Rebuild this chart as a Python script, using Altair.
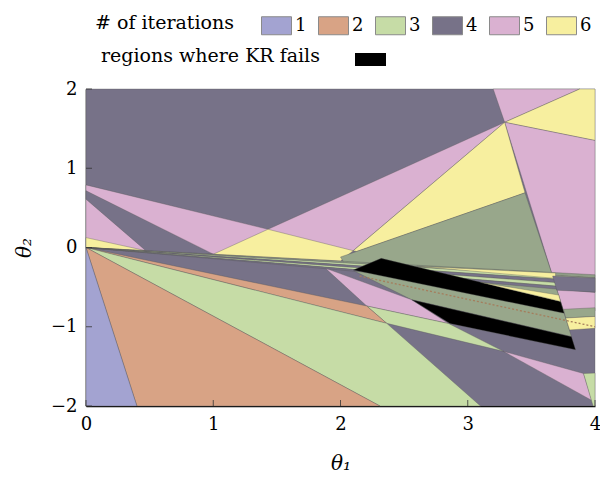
import altair as alt
import pandas as pd

# ---- colour keys ----
KEYS = ["1", "2", "3", "4", "5", "6", "m", "f", "k"]
COLS = ["#a3a3d1", "#d8a385", "#c6dca6", "#777288", "#dab1d1", "#f7ef9f",
        "#98a78b", "#8f9c86", "#000000"]

ITER_LABELS = ["1", "2", "3", "4", "5", "6"]
ITER_COLS = COLS[:6]

# ---- polygons (drawn in this order) ----
POLY_CAT = []
POLY_X = []
POLY_Y = []

def poly(cat, pts):
    POLY_CAT.append(cat)
    POLY_X.append([p[0] for p in pts])
    POLY_Y.append([p[1] for p in pts])

poly("4", [(0, -2), (4, -2), (4, 2), (0, 2)])
poly("5", [(3.20, 2), (3.88, 2), (3.29, 1.58)])
poly("6", [(3.29, 1.58), (3.88, 2), (4, 2), (4, 1.35)])
poly("5", [(3.29, 1.58), (4, 1.35), (4, -0.80), (3.752, -0.80), (3.667, -0.36)])
poly("5", [(0, 0.79), (1.43, 0.23), (3.29, 1.58), (2.10, -0.04), (2.0, -0.17), (0, 0)])
poly("4", [(0, 0.716), (1.0, -0.084), (0.47, -0.04), (0, 0.61)])
poly("6", [(0, 0.125), (0.47, -0.04), (0, 0)])
poly("6", [(1.43, 0.23), (2.10, -0.04), (2.0, -0.17), (1.0, -0.085)])
poly("6", [(3.29, 1.58), (3.45, 0.69), (2.127, -0.05), (2.10, -0.04)])
poly("m", [(2.0, -0.12), (2.127, -0.05), (3.45, 0.69), (3.667, -0.36), (3.815, -1.125), (2.56, -0.66), (2.05, -0.25)])
poly("5", [(1.88, -0.26), (2.56, -0.66), (2.85, -0.96), (2.206, -0.738)])
poly("3", [(2.206, -0.738), (2.85, -0.96), (3.28, -1.31), (2.363, -0.957)])
poly("2", [(0, 0), (2.206, -0.738), (2.363, -0.957)])
poly("3", [(0, 0), (2.363, -0.957), (3.10, -2), (2.31, -2)])
poly("2", [(0, 0), (0.40, -2), (2.31, -2)])
poly("1", [(0, 0), (0, -2), (0.40, -2)])
poly("5", [(3.28, -1.31), (3.91, -1.59), (3.975, -1.93)])
poly("3", [(3.91, -1.59), (4, -1.585), (4, -2), (3.985, -2)])
# fan of thin wedges from the origin
poly("f", [(0, 0), (4, -0.344), (4, -0.384)])
poly("3", [(0, 0), (4, -0.384), (4, -0.432)])
poly("4", [(0, 0), (4, -0.432), (4, -0.48)])
poly("3", [(0, 0), (4, -0.48), (4, -0.528)])
poly("4", [(0, 0), (4, -0.528), (4, -0.568)])
poly("6", [(2.6, -0.236), (3.69, -0.322), (3.69, -0.39)])
# regions where KR fails
poly("k", [(2.10, -0.285), (2.32, -0.137), (3.729, -0.68), (3.758, -0.83)])
poly("k", [(2.56, -0.66), (3.815, -1.125), (3.847, -1.29), (2.86, -0.96)])
poly("6", [(3.1, -0.44), (3.715, -0.60), (3.729, -0.68)])
# bands right of the long diagonal
poly("4", [(3.667, -0.36), (4, -0.385), (4, -0.56), (3.70, -0.54)])
poly("m", [(3.752, -0.78), (4, -0.76), (4, -0.87), (3.77, -0.89)])
poly("6", [(3.77, -0.89), (4, -0.87), (4, -1.02), (3.80, -1.04)])

DASH_X = [2.15, 4.0]
DASH_Y = [-0.36, -1.0]

X_TICKS = [0, 1, 2, 3, 4]
Y_TICKS = [-2, -1, 0, 1, 2]

rows = []
for i, (c, xs_, ys_) in enumerate(zip(POLY_CAT, POLY_X, POLY_Y)):
    for k, (x, y) in enumerate(zip(xs_, ys_)):
        rows.append({"pid": f"p{i:03d}", "c": c, "k": k, "x": x, "y": y})
df = pd.DataFrame(rows)

W, H = 509, 317
FONT = "DejaVu Serif"

xs = alt.Scale(domain=[0, 4], nice=False, zero=False)
ys = alt.Scale(domain=[-2, 2], nice=False, zero=False)

xaxis = alt.Axis(values=X_TICKS, title="θ₁", grid=False, tickSize=0, labelPadding=9,
                 titlePadding=20, domainColor="black", domainWidth=1.5, labelFlush=False)
yaxis = alt.Axis(values=Y_TICKS, title="θ₂", grid=False, tickSize=0, labelPadding=9,
                 titlePadding=16, domainColor="black", domainWidth=1.5, labelFlush=False)

polys = alt.Chart(df).mark_line(
    interpolate="linear-closed", strokeWidth=0.5, strokeOpacity=0.7
).encode(
    x=alt.X("x:Q", scale=xs, axis=xaxis),
    y=alt.Y("y:Q", scale=ys, axis=yaxis),
    detail="pid:N",
    order="k:Q",
    fill=alt.Fill("c:N", scale=alt.Scale(domain=KEYS, range=COLS), legend=None),
    stroke=alt.value("#555555"),
)

dash = alt.Chart(pd.DataFrame({"x": DASH_X, "y": DASH_Y})).mark_line(
    color="#a57d5c", strokeDash=[2, 2], strokeWidth=1.3
).encode(x=alt.X("x:Q", scale=xs, axis=xaxis), y=alt.Y("y:Q", scale=ys, axis=yaxis))

xt = alt.Chart(pd.DataFrame({"x": X_TICKS})).mark_rule(color="#333", strokeWidth=0.8).encode(
    x=alt.X("x:Q", scale=xs, axis=xaxis), y=alt.value(H), y2=alt.value(H - 6))
yt = alt.Chart(pd.DataFrame({"y": Y_TICKS})).mark_rule(color="#333", strokeWidth=0.8).encode(
    y=alt.Y("y:Q", scale=ys, axis=yaxis), x=alt.value(0), x2=alt.value(6))

SW1 = "M-1,-0.6H1V0.6H-1Z"
SW2 = "M-1,-0.42H1V0.42H-1Z"

leg1 = alt.Chart(pd.DataFrame({"it": ITER_LABELS})).mark_point(
    filled=True, opacity=0, shape=SW1
).encode(
    x=alt.value(0), y=alt.value(0),
    color=alt.Color("it:N", scale=alt.Scale(domain=ITER_LABELS, range=ITER_COLS),
                    legend=alt.Legend(title="# of iterations", orient="none",
                                      legendX=9, legendY=-79, direction="horizontal",
                                      titleOrient="left", symbolType=SW1, symbolSize=900,
                                      symbolOpacity=1, symbolStrokeColor="#8a8a8a",
                                      symbolStrokeWidth=1, labelOffset=3,
                                      columnPadding=9, titlePadding=27,
                                      titleBaseline="middle", titleLimit=400)),
)

leg2 = alt.Chart(pd.DataFrame({"kr": ["KR"]})).mark_point(
    filled=True, opacity=0, color="black"
).encode(
    x=alt.value(0), y=alt.value(0),
    shape=alt.Shape("kr:N", scale=alt.Scale(domain=["KR"], range=[SW2]),
                    legend=alt.Legend(title="regions where KR fails", orient="none",
                                      legendX=15, legendY=-46, titleOrient="left",
                                      symbolSize=961, symbolOpacity=1,
                                      symbolFillColor="black", symbolStrokeColor="#000080",
                                      symbolStrokeWidth=1.5, labelExpr="''",
                                      labelOffset=0, titlePadding=34, titleLimit=400,
                                      titleBaseline="middle")),
)

chart = alt.layer(polys, dash, xt, yt, leg1, leg2).properties(
    width=W, height=H,
    autosize=alt.AutoSizeParams(type="none"),
    padding={"left": 78, "top": 81, "right": 5, "bottom": 68},
).configure_view(stroke=None).configure_axis(
    labelFont=FONT, labelFontSize=18, labelColor="black",
    titleFont=FONT, titleFontSize=20, titleFontWeight="normal",
    titleFontStyle="italic", titleColor="black",
).configure_legend(
    labelFont=FONT, labelFontSize=18, labelColor="black",
    titleFont=FONT, titleFontSize=19, titleFontWeight="normal", titleColor="black",
    padding=0,
)

chart.save("out.html", embed_options={"renderer": "svg", "actions": False})
